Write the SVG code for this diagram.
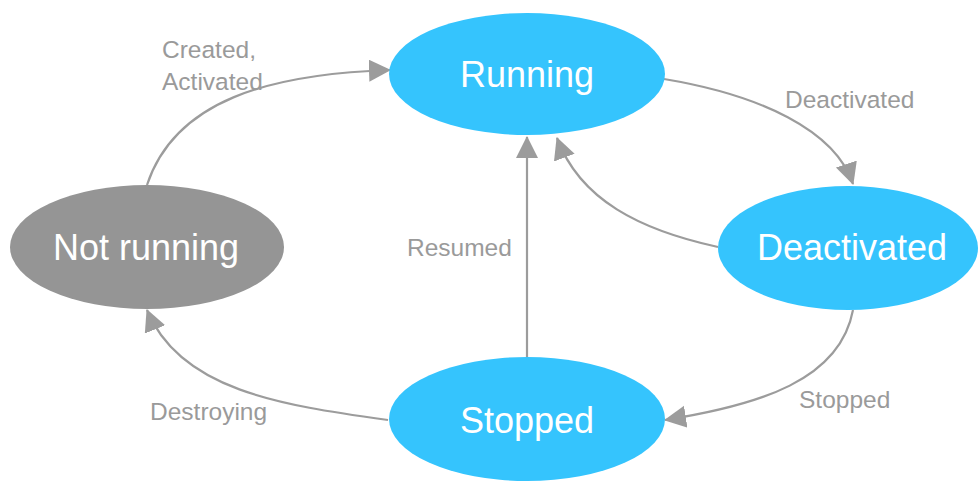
<svg xmlns="http://www.w3.org/2000/svg" width="979" height="482" viewBox="0 0 979 482">
<style>
.blue{fill:#35c4fd}
.grey{fill:#959595}
.nt{font-family:"Liberation Sans",Arial,sans-serif;font-size:36px;fill:#ffffff;text-anchor:middle}
.lb{font-family:"Liberation Sans",Arial,sans-serif;font-size:24.5px;fill:#9a9a9a}
.cn{fill:none;stroke:#9c9c9c;stroke-width:2.2}
</style>
<defs>
<marker id="a" markerUnits="userSpaceOnUse" markerWidth="24" markerHeight="24" refX="21" refY="11" orient="auto">
<path d="M0,0 L22,11 L0,22 z" fill="#9c9c9c"/>
</marker>
</defs>
<rect width="979" height="482" fill="#ffffff"/>
<g id="connectors">
<path class="cn" d="M147,185 C175,100 270,74 390,70" marker-end="url(#a)"/>
<path class="cn" d="M664,79 C760,95 835,130 853,184" marker-end="url(#a)"/>
<path class="cn" d="M718,247 C640,230 580,200 557,138" marker-end="url(#a)"/>
<path class="cn" d="M527,358 L527,137" marker-end="url(#a)"/>
<path class="cn" d="M853,310 C840,380 760,405 665,420" marker-end="url(#a)"/>
<path class="cn" d="M388,420 C280,405 180,390 147,310" marker-end="url(#a)"/>
</g>
<g id="running">
<ellipse class="blue" cx="527" cy="74" rx="138" ry="61"/>
<text class="nt" x="527" y="87">Running</text>
</g>
<g id="notrunning">
<ellipse class="grey" cx="147" cy="247" rx="137" ry="62"/>
<text class="nt" x="146" y="260">Not running</text>
</g>
<g id="deactivated">
<ellipse class="blue" cx="848" cy="248" rx="130" ry="62"/>
<text class="nt" x="852" y="260">Deactivated</text>
</g>
<g id="stopped">
<ellipse class="blue" cx="527" cy="419" rx="138" ry="62"/>
<text class="nt" x="527" y="433">Stopped</text>
</g>
<g id="labels">
<text class="lb" x="162" y="58">Created,</text>
<text class="lb" x="162" y="90">Activated</text>
<text class="lb" x="785" y="108">Deactivated</text>
<text class="lb" x="407" y="256">Resumed</text>
<text class="lb" x="150" y="420">Destroying</text>
<text class="lb" x="799" y="408">Stopped</text>
</g>
</svg>
